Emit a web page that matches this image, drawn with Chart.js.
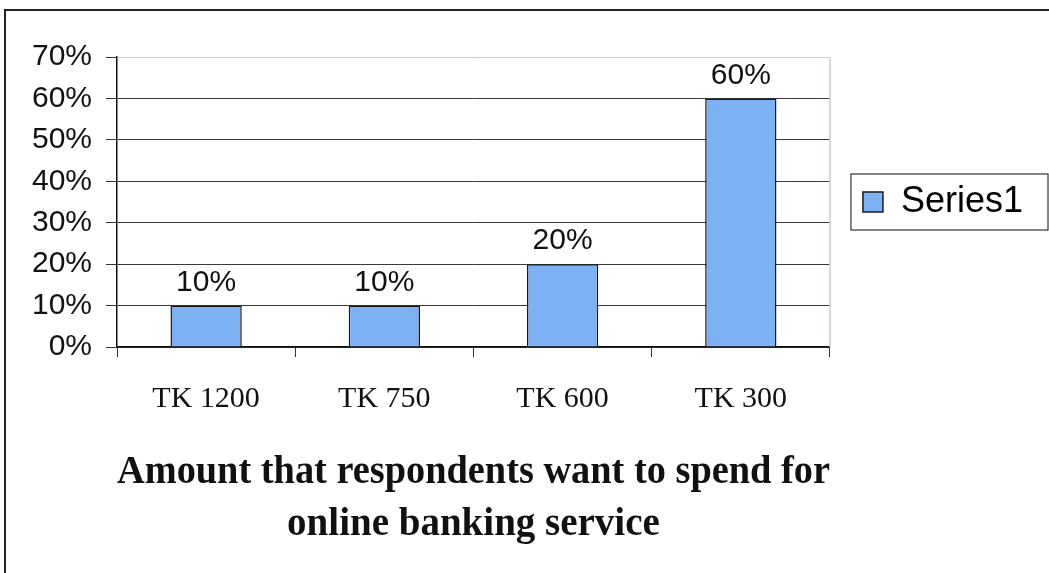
<!DOCTYPE html>
<html lang="en">
<head>
    <meta charset="UTF-8">
    <title>Online banking spend</title>
    <script src="https://cdn.jsdelivr.net/npm/chart.js"></script>
    <style>
        html, body { margin: 0; padding: 0; background: #fff; }
    </style>
</head>
<body>
    <canvas id="myChart" width="1049" height="573"></canvas>

    <script>
        // survey results (percent of respondents)
        const categories = ['TK 1200', 'TK 750', 'TK 600', 'TK 300'];
        const series1 = [10, 10, 20, 60];
        const yTicks = [0, 10, 20, 30, 40, 50, 60, 70];
        const seriesName = 'Series1';
        const axisTitle = ['Amount that respondents want to spend for', 'online banking service'];

        const sans = "'Liberation Sans', Arial, sans-serif";
        const serif = "'Liberation Serif', 'Times New Roman', serif";
        const barFill = '#7db1f3';

        // outer frame lines + grey plot border on the right
        const framePlugin = {
            id: 'frame',
            beforeDatasetsDraw(chart) {
                const ctx = chart.ctx;
                const a = chart.chartArea;
                ctx.save();
                ctx.strokeStyle = '#c6ccd6';
                ctx.lineWidth = 1.5;
                ctx.beginPath();
                ctx.moveTo(a.right, a.top);
                ctx.lineTo(a.right, a.bottom);
                ctx.stroke();
                ctx.restore();
            },
            afterDraw(chart) {
                const ctx = chart.ctx;
                ctx.save();
                ctx.strokeStyle = '#222';
                ctx.lineWidth = 2;
                ctx.beginPath();
                ctx.moveTo(4, 10);
                ctx.lineTo(chart.width, 10);
                ctx.moveTo(5, 10);
                ctx.lineTo(5, chart.height);
                ctx.stroke();

                // box round the legend
                const hb = chart.legend.legendHitBoxes[0];
                if (hb) {
                    const cy = hb.top + hb.height / 2;
                    ctx.strokeStyle = '#333';
                    ctx.lineWidth = 1.2;
                    ctx.strokeRect(hb.left - 12, cy - 28, chart.width - 1 - (hb.left - 12), 56);
                }
                ctx.restore();
            }
        };

        // value labels above each bar
        const valueLabels = {
            id: 'valueLabels',
            afterDatasetsDraw(chart) {
                const ctx = chart.ctx;
                ctx.save();
                ctx.font = '30px ' + sans;
                ctx.fillStyle = '#111';
                ctx.textAlign = 'center';
                ctx.textBaseline = 'middle';
                chart.getDatasetMeta(0).data.forEach((bar, i) => {
                    ctx.fillText(series1[i] + '%', bar.x, bar.y - 23);
                });
                ctx.restore();
            }
        };

        const ctx = document.getElementById('myChart').getContext('2d');
        new Chart(ctx, {
            type: 'bar',
            data: {
                labels: categories,
                datasets: [{
                    label: seriesName,
                    data: series1,
                    backgroundColor: barFill,
                    borderColor: '#1a1a1a',
                    borderWidth: 1.5,
                    barPercentage: 0.4,
                    categoryPercentage: 1.0
                }]
            },
            options: {
                responsive: false,
                animation: false,
                layout: {
                    padding: { left: 0, right: 16, top: 57, bottom: 0 }
                },
                plugins: {
                    tooltip: { enabled: false },
                    legend: {
                        position: 'right',
                        fullSize: false,
                        labels: {
                            boxWidth: 20,
                            boxHeight: 20,
                            padding: 33,
                            color: '#111',
                            font: { family: sans, size: 36 },
                            generateLabels: (chart) => [{
                                text: seriesName,
                                fillStyle: barFill,
                                strokeStyle: '#1a1a1a',
                                lineWidth: 1.5,
                                datasetIndex: 0
                            }]
                        }
                    }
                },
                scales: {
                    x: {
                        grid: {
                            offset: true,
                            drawOnChartArea: false,
                            tickLength: 10,
                            color: '#333'
                        },
                        border: { color: '#111', width: 1.5 },
                        ticks: {
                            padding: 24,
                            color: '#111',
                            font: { family: serif, size: 30 }
                        },
                        title: {
                            display: true,
                            text: axisTitle,
                            color: '#111',
                            padding: { top: 0, bottom: 23 },
                            font: { family: serif, size: 39, weight: 'bold', lineHeight: 1.31 }
                        },
                        afterFit(scale) { scale.height = 226; }
                    },
                    y: {
                        min: 0,
                        max: 70,
                        afterBuildTicks(scale) {
                            scale.ticks = yTicks.map(v => ({ value: v }));
                        },
                        grid: {
                            tickLength: 11,
                            color: (c) => (c.tick && c.tick.value === 70) ? '#c6ccd6' : '#3a3a3a',
                            tickColor: '#333',
                            lineWidth: 1
                        },
                        border: { color: '#111', width: 1.5 },
                        ticks: {
                            padding: 14,
                            color: '#111',
                            font: { family: sans, size: 30 },
                            callback: (v) => v + '%'
                        },
                        afterFit(scale) { scale.width = 117; }
                    }
                }
            },
            plugins: [framePlugin, valueLabels]
        });
    </script>
</body>
</html>
